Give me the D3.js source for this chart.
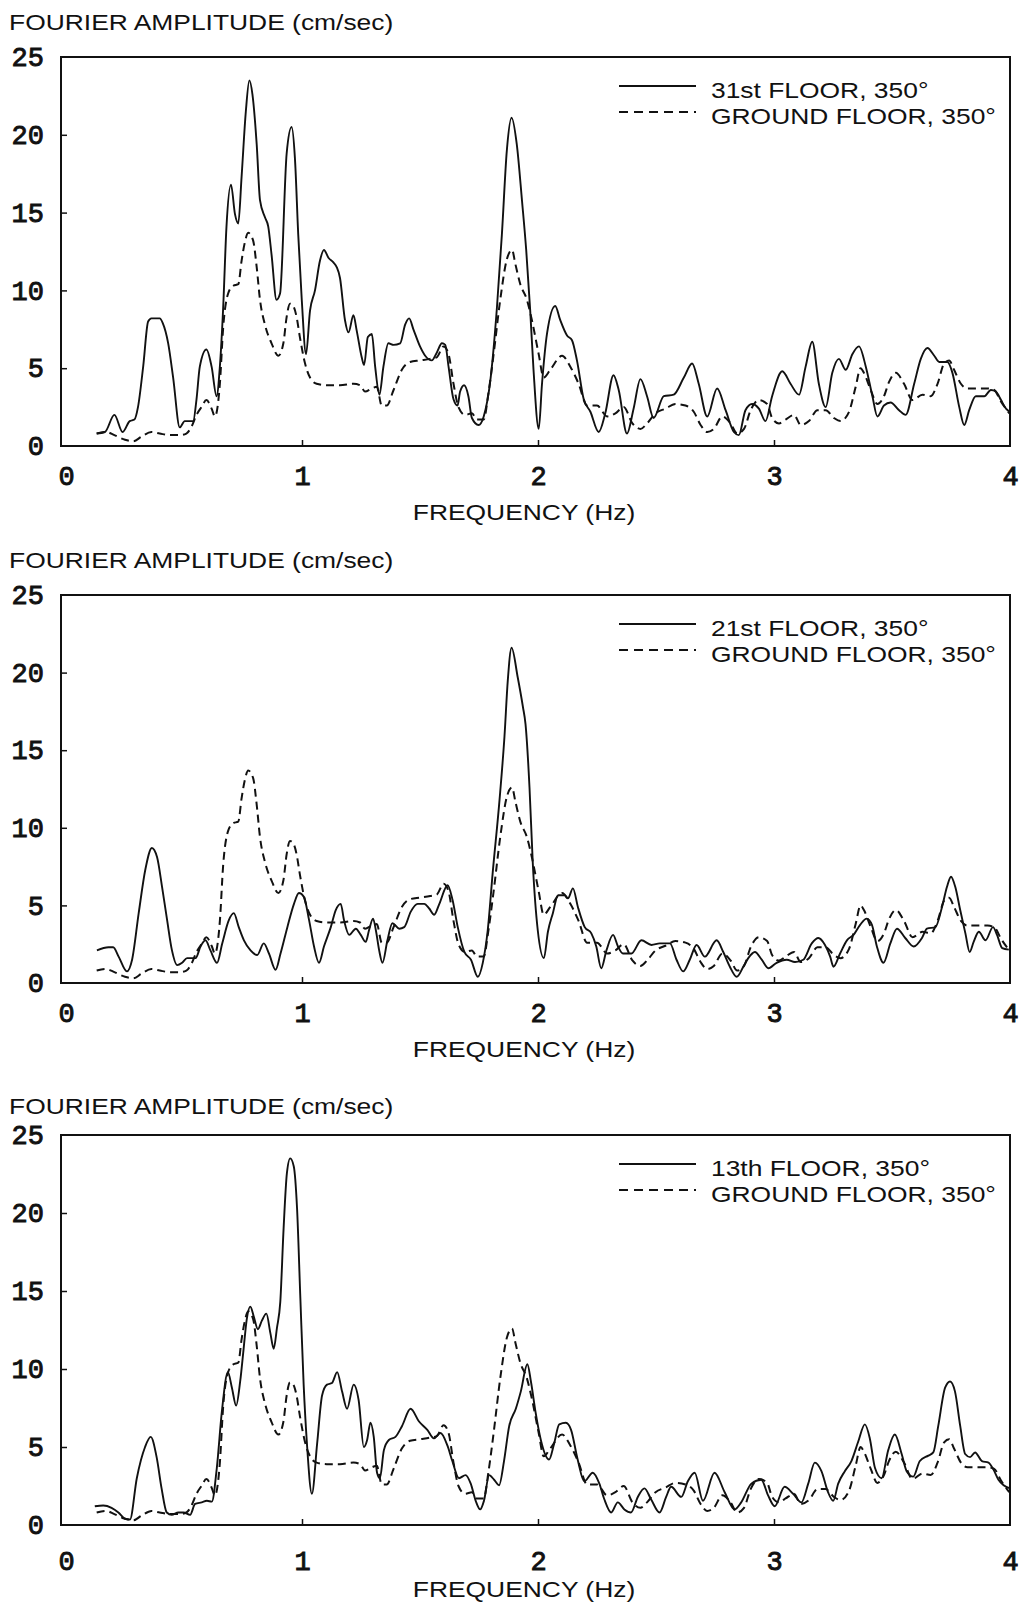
<!DOCTYPE html>
<html>
<head>
<meta charset="utf-8">
<script src="https://cdn.jsdelivr.net/npm/d3@7"></script>
<style>
  html, body { margin: 0; padding: 0; background: #fff; }
  svg { display: block; }
</style>
</head>
<body>
<svg id="chart" width="1030" height="1605"></svg>
<script>
// ---- Data: Fourier amplitude spectra, [frequency (Hz), amplitude (cm/sec)] ----

// 31st floor, 350 degree component
const floor31 = [
  [0.13,0.8],[0.165,0.9],[0.205,2.0],[0.24,0.9],[0.27,1.6],[0.29,1.7],[0.305,2.5],[0.327,5.1],
  [0.348,8.0],[0.362,8.2],[0.397,8.2],[0.41,7.9],[0.433,6.6],[0.454,4.4],[0.482,1.2],[0.503,1.6],
  [0.539,1.6],[0.553,3.0],[0.567,5.1],[0.595,6.2],[0.617,5.1],[0.638,3.2],[0.652,5.1],[0.666,8.9],
  [0.68,14.1],[0.699,16.8],[0.716,14.9],[0.73,14.3],[0.744,17.3],[0.762,21.5],[0.777,23.5],[0.79,22.6],
  [0.808,19.4],[0.822,15.8],[0.843,14.7],[0.857,14.1],[0.871,12.3],[0.892,9.4],[0.907,9.8],[0.935,18.8],
  [0.956,20.5],[0.97,18.5],[0.984,13.6],[0.999,9.4],[1.017,5.9],[1.034,8.7],[1.055,10.0],[1.076,11.9],
  [1.093,12.6],[1.112,12.1],[1.133,11.8],[1.147,11.5],[1.161,10.8],[1.182,8.1],[1.197,7.3],[1.218,8.4],
  [1.232,7.4],[1.253,5.7],[1.263,5.2],[1.279,7.0],[1.296,7.2],[1.31,5.1],[1.328,3.3],[1.345,5.1],
  [1.366,6.6],[1.388,6.5],[1.416,6.6],[1.437,7.8],[1.454,8.2],[1.472,7.5],[1.5,6.4],[1.522,5.8],
  [1.55,5.5],[1.571,6.0],[1.593,6.6],[1.607,6.5],[1.621,5.1],[1.642,3.0],[1.659,2.6],[1.67,3.5],
  [1.687,3.9],[1.705,3.2],[1.72,1.8],[1.748,1.35],[1.77,1.9],[1.798,4.2],[1.826,8.9],[1.847,13.6],
  [1.868,19.0],[1.888,21.1],[1.91,19.4],[1.932,15.8],[1.95,12.6],[1.967,8.7],[1.981,4.9],[2.003,1.1],
  [2.017,4.0],[2.038,7.2],[2.073,9.0],[2.094,8.1],[2.123,7.1],[2.144,6.8],[2.165,5.5],[2.193,3.05],
  [2.222,2.2],[2.257,0.9],[2.285,2.1],[2.32,4.55],[2.342,3.6],[2.377,0.8],[2.405,2.4],[2.434,4.3],
  [2.462,3.2],[2.49,1.8],[2.533,3.2],[2.575,3.3],[2.618,4.4],[2.653,5.3],[2.681,4.0],[2.717,1.9],
  [2.759,3.7],[2.795,2.3],[2.83,0.9],[2.851,0.7],[2.879,2.3],[2.907,2.7],[2.936,2.4],[2.964,1.6],
  [2.992,3.2],[3.035,4.8],[3.07,4.0],[3.106,3.3],[3.134,5.1],[3.162,6.7],[3.19,4.0],[3.219,2.5],
  [3.247,4.7],[3.275,5.6],[3.304,4.9],[3.332,5.9],[3.36,6.4],[3.389,5.1],[3.417,3.2],[3.438,1.9],
  [3.466,2.6],[3.494,2.8],[3.53,2.3],[3.558,2.0],[3.594,4.0],[3.622,5.6],[3.65,6.3],[3.679,5.8],
  [3.7,5.4],[3.735,5.4],[3.756,4.7],[3.785,2.5],[3.806,1.35],[3.827,2.3],[3.855,3.2],[3.891,3.2],
  [3.919,3.6],[3.94,3.5],[3.962,2.95],[3.983,2.4],[4.0,2.2]
];

// 21st floor, 350 degree component
const floor21 = [
  [0.131,2.1],[0.18,2.3],[0.2,2.3],[0.223,1.7],[0.258,0.75],[0.28,1.5],[0.308,4.5],[0.336,7.3],
  [0.364,8.7],[0.386,8.1],[0.407,6.2],[0.428,4.1],[0.449,2.1],[0.471,1.15],[0.492,1.3],[0.513,1.6],
  [0.549,1.6],[0.57,2.35],[0.591,2.75],[0.612,2.1],[0.64,1.3],[0.662,2.55],[0.69,4.05],[0.711,4.5],
  [0.732,3.6],[0.754,2.75],[0.782,2.1],[0.81,1.8],[0.838,2.55],[0.86,1.9],[0.888,0.85],[0.909,1.9],
  [0.938,3.6],[0.966,5.1],[0.987,5.8],[1.008,5.55],[1.03,4.05],[1.051,2.35],[1.072,1.3],[1.093,2.35],
  [1.122,3.6],[1.143,4.7],[1.164,5.1],[1.178,4.05],[1.2,3.1],[1.228,3.5],[1.249,3.1],[1.27,2.65],
  [1.284,3.4],[1.301,4.15],[1.313,3.4],[1.327,2.1],[1.341,1.3],[1.362,2.75],[1.383,3.85],[1.412,3.5],
  [1.433,3.6],[1.461,4.6],[1.49,5.1],[1.518,5.1],[1.539,4.8],[1.56,4.4],[1.582,5.1],[1.617,6.3],
  [1.638,5.35],[1.66,3.6],[1.688,2.0],[1.716,1.5],[1.745,0.4],[1.766,1.3],[1.787,3.4],[1.808,7.1],
  [1.837,11.8],[1.858,15.9],[1.872,19.5],[1.888,21.6],[1.914,19.7],[1.936,17.8],[1.947,16.7],[1.964,12.6],
  [1.978,7.7],[1.999,3.4],[2.025,1.6],[2.042,3.3],[2.063,4.5],[2.085,5.65],[2.113,5.65],[2.127,5.45],
  [2.148,6.1],[2.169,4.9],[2.198,3.6],[2.226,3.2],[2.247,2.35],[2.268,0.95],[2.29,2.1],[2.318,3.1],
  [2.339,2.35],[2.36,1.9],[2.396,1.9],[2.438,2.75],[2.481,2.45],[2.516,2.55],[2.559,2.55],[2.587,1.5],
  [2.615,0.75],[2.643,1.5],[2.672,2.45],[2.707,1.7],[2.757,2.75],[2.785,2.0],[2.813,1.05],[2.842,0.4],
  [2.87,1.05],[2.891,1.6],[2.919,2.0],[2.948,1.5],[2.976,0.95],[3.011,1.3],[3.054,1.5],[3.089,1.35],
  [3.124,1.5],[3.16,2.55],[3.188,2.9],[3.216,2.45],[3.238,1.7],[3.252,1.05],[3.28,1.9],[3.309,2.75],
  [3.337,3.1],[3.365,3.75],[3.393,4.15],[3.415,3.75],[3.436,2.35],[3.464,1.3],[3.493,2.55],[3.521,3.5],
  [3.556,2.9],[3.592,2.35],[3.627,2.9],[3.648,3.5],[3.684,3.6],[3.712,4.9],[3.733,6.2],[3.75,6.85],
  [3.768,6.2],[3.789,4.7],[3.811,3.2],[3.829,2.0],[3.846,2.65],[3.868,3.3],[3.896,2.75],[3.928,3.6],
  [3.945,3.1],[3.967,2.25],[3.995,2.15]
];

// 13th floor, 350 degree component
const floor13 = [
  [0.122,1.2],[0.158,1.25],[0.193,1.1],[0.222,0.8],[0.25,0.4],[0.271,0.35],[0.3,3.0],[0.335,5.0],
  [0.359,5.65],[0.384,4.35],[0.405,2.35],[0.427,0.8],[0.448,0.65],[0.476,0.8],[0.498,0.8],[0.526,0.65],
  [0.547,1.35],[0.575,1.45],[0.597,1.55],[0.618,1.5],[0.639,3.65],[0.66,7.2],[0.686,9.8],[0.703,8.8],
  [0.721,7.65],[0.738,9.2],[0.752,11.2],[0.766,13.2],[0.781,14.0],[0.795,13.4],[0.813,12.55],[0.83,13.1],
  [0.849,13.55],[0.866,12.3],[0.88,11.3],[0.894,12.65],[0.908,14.3],[0.922,19.0],[0.936,22.55],[0.95,23.5],
  [0.965,23.0],[0.979,20.3],[0.993,14.55],[1.007,9.0],[1.021,5.2],[1.042,2.0],[1.064,5.2],[1.085,8.3],
  [1.106,9.0],[1.127,9.1],[1.149,9.8],[1.17,8.55],[1.191,7.45],[1.219,9.0],[1.24,8.0],[1.262,5.0],
  [1.276,5.45],[1.29,6.55],[1.304,5.65],[1.318,3.35],[1.33,3.0],[1.347,4.8],[1.368,5.45],[1.396,5.65],
  [1.424,6.35],[1.46,7.45],[1.495,6.65],[1.531,6.1],[1.559,5.55],[1.587,5.9],[1.616,5.1],[1.637,4.1],
  [1.665,3.0],[1.693,3.2],[1.715,2.65],[1.736,1.55],[1.755,1.0],[1.771,1.55],[1.793,3.2],[1.814,2.9],
  [1.835,2.55],[1.856,4.1],[1.878,6.35],[1.906,7.45],[1.927,8.55],[1.955,10.3],[1.97,9.2],[1.99,7.2],
  [2.012,5.45],[2.047,4.2],[2.068,5.2],[2.09,6.45],[2.118,6.55],[2.14,6.1],[2.168,4.2],[2.196,2.8],
  [2.232,3.35],[2.26,2.65],[2.281,1.65],[2.31,0.8],[2.338,1.45],[2.366,1.0],[2.394,0.8],[2.423,1.8],
  [2.451,2.35],[2.479,1.65],[2.515,0.8],[2.543,1.8],[2.564,2.45],[2.607,1.8],[2.635,2.8],[2.664,3.35],
  [2.699,1.55],[2.748,3.35],[2.791,2.1],[2.833,1.0],[2.861,1.45],[2.904,2.65],[2.946,2.9],[2.975,1.9],
  [3.003,1.2],[3.045,2.45],[3.081,2.0],[3.116,1.45],[3.145,2.65],[3.173,4.0],[3.201,3.45],[3.229,2.1],
  [3.251,1.55],[3.272,2.65],[3.3,3.45],[3.328,4.1],[3.357,5.35],[3.385,6.45],[3.406,5.55],[3.428,3.65],
  [3.456,3.0],[3.484,4.8],[3.512,5.8],[3.541,4.55],[3.562,3.45],[3.59,3.1],[3.618,4.1],[3.654,4.45],
  [3.675,4.65],[3.696,6.35],[3.725,8.8],[3.746,9.2],[3.767,8.55],[3.789,6.35],[3.81,4.55],[3.831,4.35],
  [3.852,4.65],[3.881,4.1],[3.909,4.0],[3.93,3.55],[3.951,2.9],[3.973,2.55],[4.0,2.35]
];

// Ground floor, 350 degree component (reference record shown in every panel)
const groundFloor = [
  [0.13,0.8],[0.17,0.9],[0.205,0.7],[0.25,0.4],[0.285,0.3],[0.32,0.6],[0.362,0.9],[0.397,0.8],
  [0.44,0.7],[0.482,0.7],[0.51,0.8],[0.532,1.25],[0.553,2.0],[0.574,2.5],[0.595,2.95],[0.617,2.4],
  [0.631,1.9],[0.652,4.0],[0.666,7.6],[0.687,9.8],[0.709,10.3],[0.73,10.4],[0.744,11.9],[0.758,13.1],
  [0.772,13.7],[0.793,13.2],[0.808,11.5],[0.822,9.4],[0.843,7.8],[0.871,6.6],[0.9,5.8],[0.921,6.6],
  [0.935,8.3],[0.949,9.15],[0.963,9.0],[0.977,8.3],[0.991,7.0],[1.013,5.3],[1.034,4.4],[1.062,4.0],
  [1.105,3.9],[1.161,3.9],[1.218,4.0],[1.246,3.9],[1.267,3.5],[1.296,3.7],[1.317,3.8],[1.338,2.6],
  [1.359,2.6],[1.388,3.6],[1.423,4.9],[1.458,5.4],[1.5,5.5],[1.543,5.6],[1.571,5.7],[1.6,6.4],
  [1.621,5.9],[1.642,4.0],[1.663,2.5],[1.691,2.0],[1.72,2.1],[1.741,1.7],[1.77,1.7],[1.79,3.4],
  [1.812,5.9],[1.84,9.4],[1.868,12.0],[1.89,12.6],[1.904,11.7],[1.925,10.4],[1.953,9.4],[1.974,8.1],
  [2.003,5.9],[2.024,4.4],[2.052,4.9],[2.102,5.8],[2.137,5.1],[2.172,4.0],[2.208,2.6],[2.25,2.6],
  [2.293,1.9],[2.328,2.1],[2.363,2.5],[2.4,1.45],[2.434,1.1],[2.462,1.45],[2.498,2.1],[2.54,2.4],
  [2.582,2.7],[2.625,2.6],[2.66,2.2],[2.689,1.35],[2.717,0.9],[2.745,1.1],[2.781,1.9],[2.816,1.45],
  [2.844,0.8],[2.873,1.1],[2.901,2.3],[2.936,2.95],[2.971,2.7],[2.992,1.8],[3.021,1.45],[3.049,1.7],
  [3.085,2.0],[3.113,1.35],[3.148,1.6],[3.184,2.3],[3.219,2.3],[3.254,1.8],[3.282,1.6],[3.318,2.2],
  [3.346,3.8],[3.367,5.0],[3.381,4.7],[3.41,3.6],[3.438,2.7],[3.466,3.2],[3.487,4.1],[3.516,4.7],
  [3.551,4.0],[3.587,2.95],[3.629,3.3],[3.664,3.2],[3.693,4.0],[3.721,5.3],[3.742,5.5],[3.763,4.9],
  [3.792,4.0],[3.82,3.7],[3.862,3.7],[3.905,3.7],[3.933,3.6],[3.962,2.85],[3.997,2.1]
];

// ---- Axis ticks and labels ----
const xTicks = [0, 1, 2, 3, 4];
const yTicks = [0, 5, 10, 15, 20, 25];
const yLabelText = "FOURIER AMPLITUDE (cm/sec)";
const xLabelText = "FREQUENCY (Hz)";
const floorSeries = [floor31, floor21, floor13];
const floorNames = ["31st FLOOR, 350\u00B0", "21st FLOOR, 350\u00B0", "13th FLOOR, 350\u00B0"];
const groundName = "GROUND FLOOR, 350\u00B0";

// ---- Layout ----
const svg = d3.select("#chart");
svg.append("rect").attr("width", 1030).attr("height", 1605).attr("fill", "#fff");

const panels = [
  { top: 57,   height: 389, titleGap: 27, tickPad: 20, xTitleGap: 74 },
  { top: 595,  height: 388, titleGap: 27, tickPad: 20, xTitleGap: 74 },
  { top: 1135, height: 390, titleGap: 21, tickPad: 26, xTitleGap: 72 }
];
const xStart = 66, xEnd = 1010, frameLeft = 61;
const INK = "#111";
const SANS = "'Liberation Sans', Arial, Helvetica, sans-serif";
const MONO = "'Liberation Mono', 'Courier New', monospace";
const WIDE = 1.2; // horizontal stretch applied to the sans-serif labels

// Widen a text element horizontally, keeping it anchored at the given x position
function widen(sel, anchor) {
  sel.each(function () {
    const w = this.getComputedTextLength() * WIDE;
    const x0 = +this.getAttribute("x");
    this.setAttribute("text-anchor", "start");
    this.setAttribute("textLength", w);
    this.setAttribute("lengthAdjust", "spacingAndGlyphs");
    if (anchor === "middle") this.setAttribute("x", x0 - w / 2);
  });
}

function styleDigits(sel) {
  sel.attr("font-family", MONO).attr("font-size", 27).attr("fill", INK)
     .attr("stroke", INK).attr("stroke-width", 0.9);
}

floorSeries.forEach((series, i) => {
  const p = panels[i];
  const top = p.top;
  const bottom = top + p.height;
  const x = d3.scaleLinear().domain([0, 4]).range([xStart, xEnd]);
  const y = d3.scaleLinear().domain([0, 25]).range([bottom, top]);
  const g = svg.append("g").attr("class", "panel");

  // y-axis title above the frame
  g.append("text")
    .attr("x", 9).attr("y", top - p.titleGap)
    .attr("font-family", SANS).attr("font-size", 22).attr("fill", INK)
    .text(yLabelText)
    .call(widen, "start");

  // y axis: labels on the left, short ticks pointing into the plot
  const yAxis = g.append("g")
    .attr("transform", `translate(${frameLeft},0)`)
    .call(d3.axisLeft(y).tickValues(yTicks).tickSize(0).tickPadding(17).tickFormat(d3.format("d")));
  yAxis.select(".domain").remove();
  yAxis.selectAll("text").call(styleDigits);
  g.append("g")
    .attr("transform", `translate(${frameLeft},0)`)
    .call(d3.axisRight(y).tickValues(yTicks.slice(1, -1)).tickSize(6).tickFormat(""))
    .call(s => s.select(".domain").remove())
    .selectAll("line").attr("stroke", INK).attr("stroke-width", 1.5);

  // x axis: labels below, short ticks pointing up into the plot
  const xAxis = g.append("g")
    .attr("transform", `translate(0,${bottom})`)
    .call(d3.axisBottom(x).tickValues(xTicks).tickSize(0).tickPadding(p.tickPad).tickFormat(d3.format("d")));
  xAxis.select(".domain").remove();
  xAxis.selectAll("text").call(styleDigits);
  g.append("g")
    .attr("transform", `translate(0,${bottom})`)
    .call(d3.axisTop(x).tickValues(xTicks.slice(1, -1)).tickSize(6).tickFormat(""))
    .call(s => s.select(".domain").remove())
    .selectAll("line").attr("stroke", INK).attr("stroke-width", 1.5);

  // x-axis title
  g.append("text")
    .attr("x", 524).attr("y", bottom + p.xTitleGap)
    .attr("font-family", SANS).attr("font-size", 22).attr("fill", INK)
    .text(xLabelText)
    .call(widen, "middle");

  // plot frame
  g.append("rect")
    .attr("x", frameLeft).attr("y", top)
    .attr("width", xEnd - frameLeft).attr("height", p.height)
    .attr("fill", "none").attr("stroke", INK).attr("stroke-width", 2);

  const line = d3.line()
    .x(d => x(d[0])).y(d => y(d[1]))
    .curve(d3.curveMonotoneX);

  // ground floor record (dashed)
  g.append("path")
    .datum(groundFloor)
    .attr("d", line)
    .attr("fill", "none").attr("stroke", INK).attr("stroke-width", 2)
    .attr("stroke-dasharray", "8,5");

  // upper floor record (solid)
  g.append("path")
    .datum(series)
    .attr("d", line)
    .attr("fill", "none").attr("stroke", INK).attr("stroke-width", 1.9)
    .attr("stroke-linejoin", "round");

  // legend
  const lg = g.append("g").attr("class", "legend");
  lg.append("line")
    .attr("x1", 619).attr("x2", 696).attr("y1", top + 29).attr("y2", top + 29)
    .attr("stroke", INK).attr("stroke-width", 2);
  lg.append("line")
    .attr("x1", 619).attr("x2", 696).attr("y1", top + 55).attr("y2", top + 55)
    .attr("stroke", INK).attr("stroke-width", 2).attr("stroke-dasharray", "9,6");
  lg.append("text")
    .attr("x", 711).attr("y", top + 41)
    .attr("font-family", SANS).attr("font-size", 22).attr("fill", INK)
    .text(floorNames[i])
    .call(widen, "start");
  lg.append("text")
    .attr("x", 711).attr("y", top + 67)
    .attr("font-family", SANS).attr("font-size", 22).attr("fill", INK)
    .text(groundName)
    .call(widen, "start");
});
</script>
</body>
</html>
